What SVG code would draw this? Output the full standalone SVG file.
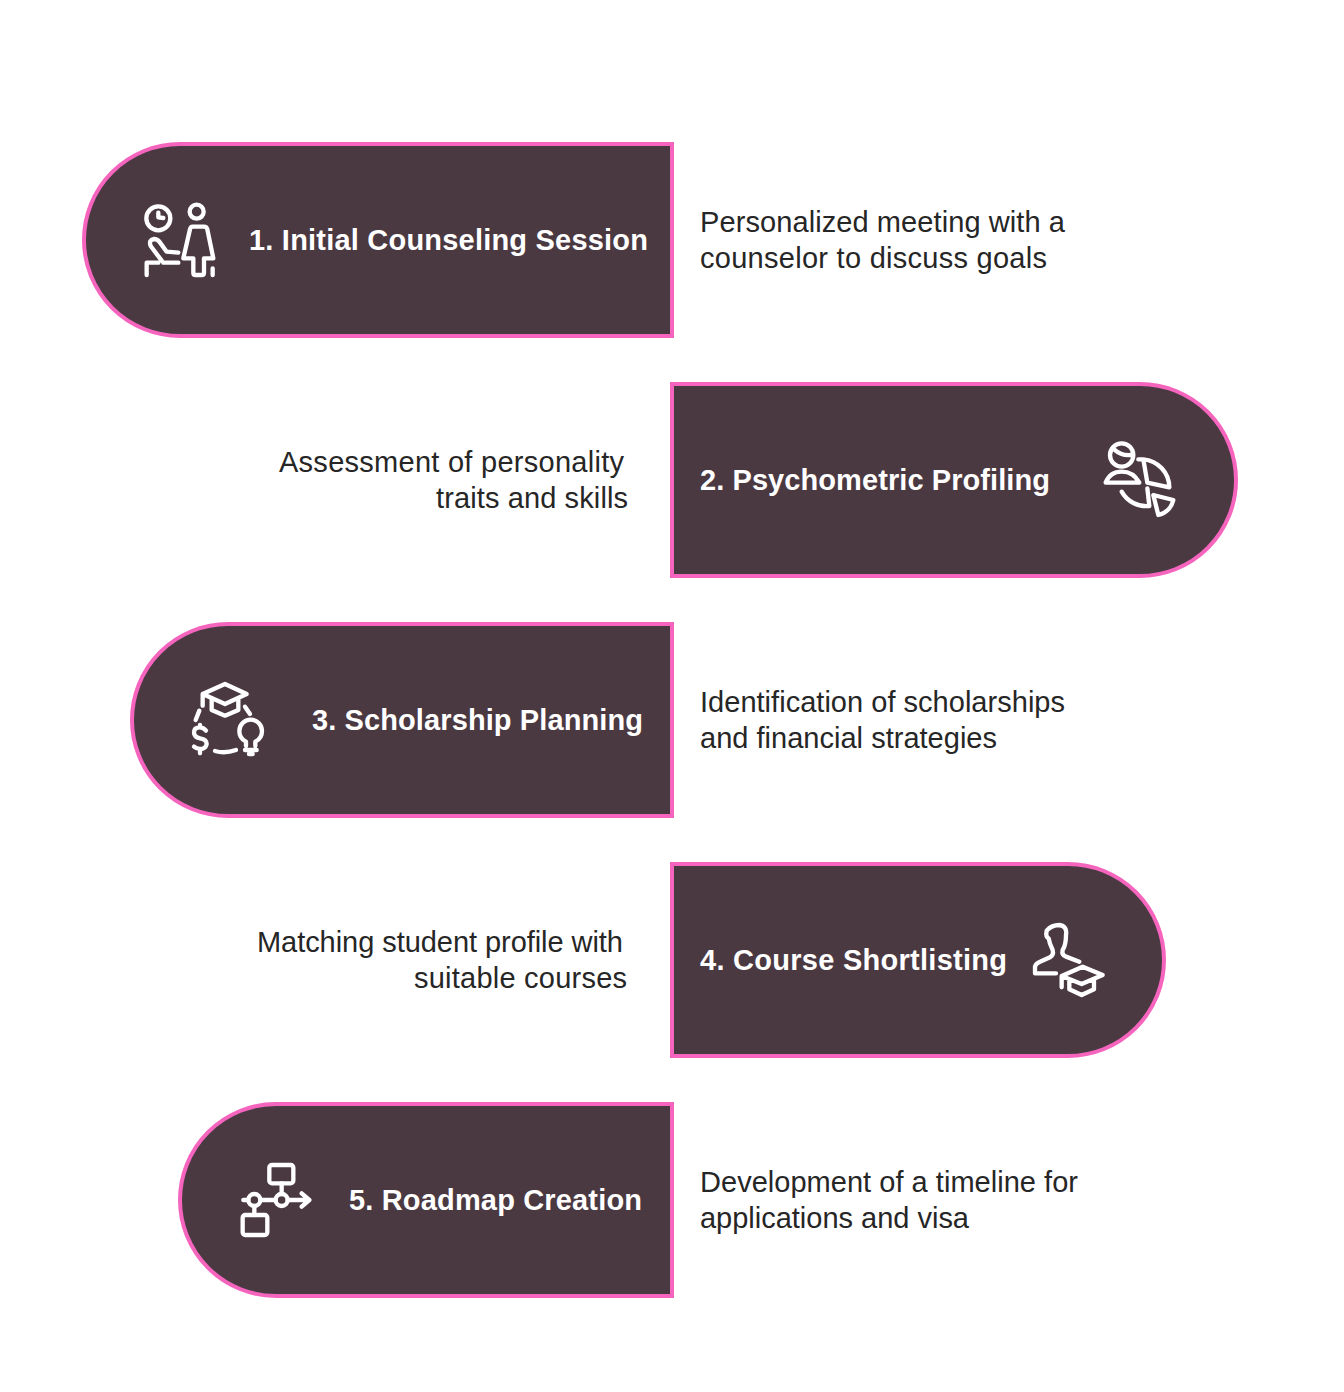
<svg xmlns="http://www.w3.org/2000/svg" width="1344" height="1392" viewBox="0 0 1344 1392">
<style>
.s{fill:#4b3942;stroke:#f564bd;stroke-width:4}
.l{font-family:"Liberation Sans",Arial,sans-serif;font-weight:700;font-size:29px;fill:#fff}
.d{font-family:"Liberation Sans",Arial,sans-serif;font-size:29px;fill:#262626}
.i{fill:none;stroke:#fff;stroke-width:13;stroke-linecap:round;stroke-linejoin:round}
</style>
<rect width="1344" height="1392" fill="#fff"/>
<g id="node1">
<path class="s" d="M672 144V336H180A96 96 0 0 1 180 144Z"/>
<g class="i" transform="translate(130 190) scale(.3333)">
<circle cx="85" cy="85" r="36"/><path d="M85 68V82L100 84"/>
<circle cx="200" cy="65" r="21"/>
<path d="M188 110H222Q230 110 232 118L250 205H222V248Q222 255 215 255H197Q190 255 190 248V205H160L180 118Q182 110 188 110Z"/>
<path d="M50 255V218H85M95 212L62 168Q55 150 72 147Q82 147 88 155L110 185L145 188M100 218H145M248 235V255"/>
</g>
<text class="l" x="249" y="250" textLength="399">1. Initial Counseling Session</text>
<text class="d" x="700" y="231.5" textLength="365">Personalized meeting with a</text>
<text class="d" x="700" y="267.5" textLength="347">counselor to discuss goals</text>
</g>
<g id="node2">
<path class="s" d="M672 384V576H1140A96 96 0 0 0 1140 384Z"/>
<g class="i" transform="translate(1090 430) scale(.3333)">
<circle cx="95" cy="75" r="35"/><path d="M72 58Q95 78 122 75"/>
<path d="M47 158Q60 125 95 125Q130 125 148 158Z"/>
<path d="M145 88H160L172 158L238 172A85 85 0 0 0 160 88"/>
<path d="M95 185A85 85 0 0 0 178 228L172 175"/>
<path d="M190 195L250 210A60 60 0 0 1 205 255Z"/>
</g>
<text class="l" x="700" y="490" textLength="350">2. Psychometric Profiling</text>
<text class="d" x="279" y="471.5" textLength="345">Assessment of personality</text>
<text class="d" x="436" y="507.5" textLength="192">traits and skills</text>
</g>
<g id="node3">
<path class="s" d="M672 624V816H228A96 96 0 0 1 228 624Z"/>
<g class="i" transform="translate(180 670) scale(.3333)">
<path d="M68 72L135 42L200 72L135 102ZM68 72V107M95 88V120L135 137L175 120V88"/>
<path d="M58 122L47 150M195 110L210 132M105 243Q135 252 168 240"/>
<path d="M78 182Q70 172 60 172Q42 172 42 187Q42 202 60 205Q80 208 80 222Q78 237 60 237Q50 237 42 230M60 165V172M60 237V250"/>
<path d="M198 228V215Q178 205 178 183A34 34 0 0 1 246 183Q246 205 226 215V228M195 240H230M207 252H218"/>
</g>
<text class="l" x="312" y="730" textLength="331">3. Scholarship Planning</text>
<text class="d" x="700" y="711.5" textLength="365">Identification of scholarships</text>
<text class="d" x="700" y="747.5" textLength="297">and financial strategies</text>
</g>
<g id="node4">
<path class="s" d="M672 864V1056H1068A96 96 0 0 0 1068 864Z"/>
<g class="i" transform="translate(1020 910) scale(.3333)">
<path d="M108 190H45V170Q47 160 60 155L90 142Q102 135 98 120Q88 100 86 85Q76 80 80 62Q95 45 118 45Q142 48 138 75Q138 105 128 120Q124 135 138 140L178 155"/>
<path d="M125 198L188 170L248 195L185 222ZM125 198V232M148 210V238L185 255L222 238V210"/>
</g>
<text class="l" x="700" y="970" textLength="307">4. Course Shortlisting</text>
<text class="d" x="257" y="951.5" textLength="366">Matching student profile with</text>
<text class="d" x="414" y="987.5" textLength="213">suitable courses</text>
</g>
<g id="node5">
<path class="s" d="M672 1104V1296H276A96 96 0 0 1 276 1104Z"/>
<g class="i" transform="translate(230 1150) scale(.3333)">
<rect x="118" y="45" width="72" height="55" rx="8"/><rect x="38" y="195" width="74" height="60" rx="8"/>
<circle cx="155" cy="150" r="18"/><circle cx="73" cy="150" r="18"/>
<path d="M155 100V132M40 150H55M92 150H136M173 150H238M215 130L238 150L215 170M73 168V195"/>
</g>
<text class="l" x="349" y="1210" textLength="293">5. Roadmap Creation</text>
<text class="d" x="700" y="1191.5" textLength="378">Development of a timeline for</text>
<text class="d" x="700" y="1227.5" textLength="269">applications and visa</text>
</g>
<g id="connectors"></g>
</svg>
